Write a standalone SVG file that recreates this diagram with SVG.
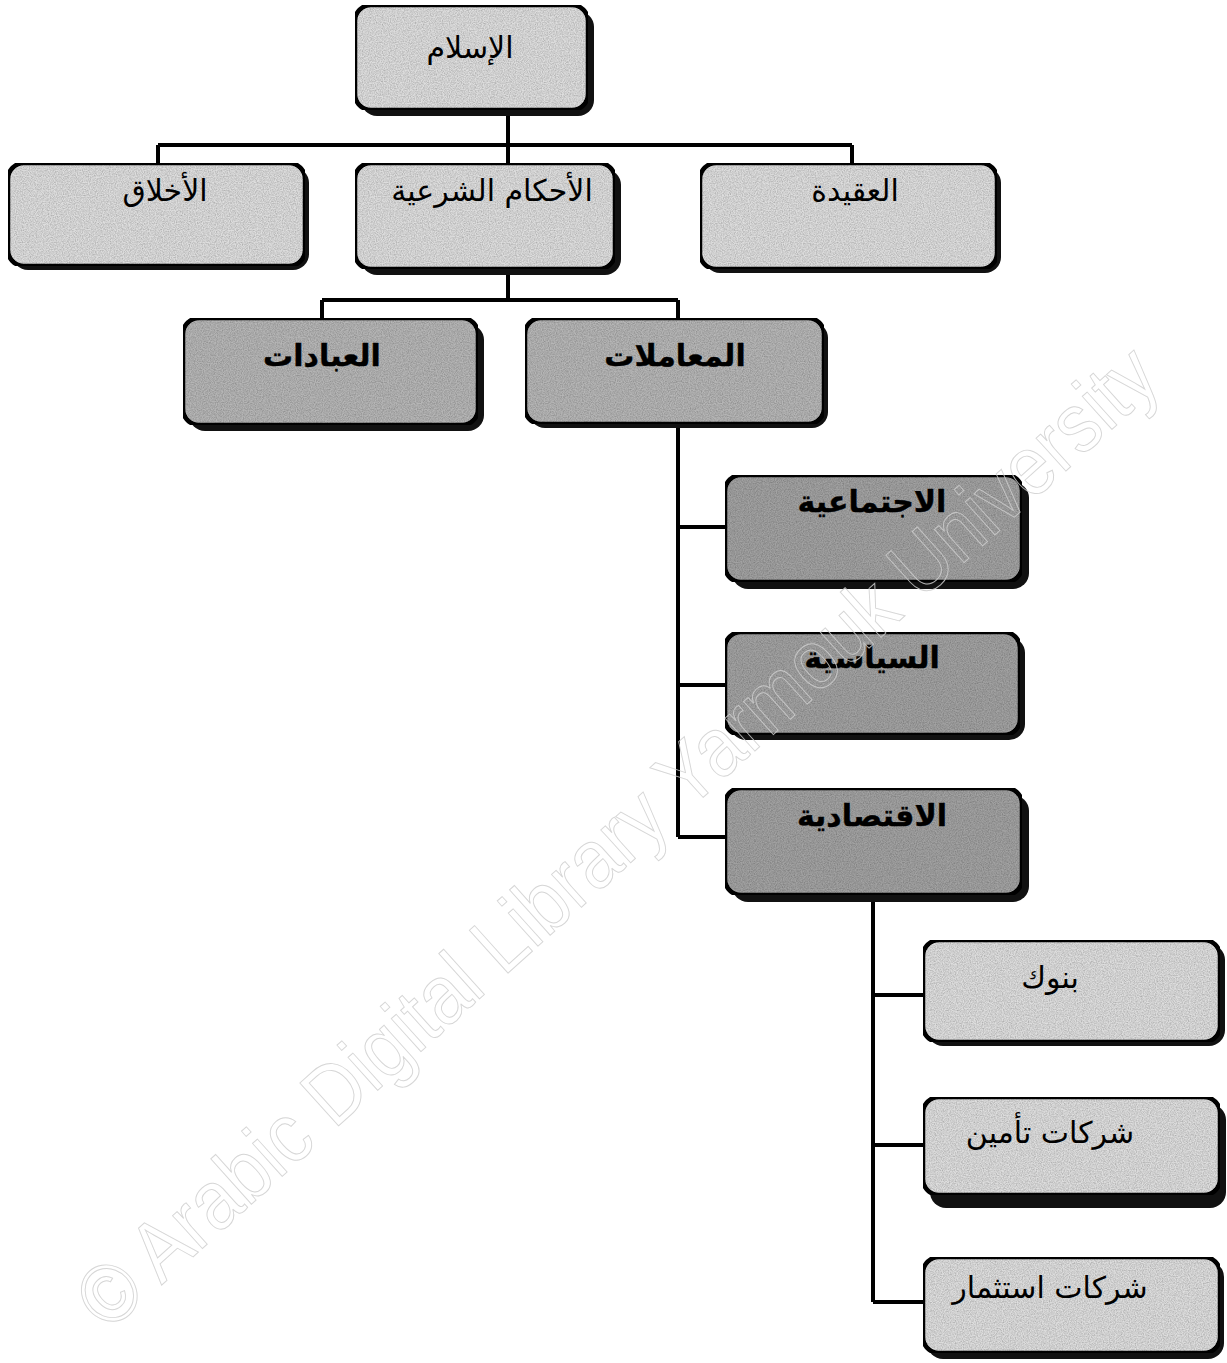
<svg xmlns="http://www.w3.org/2000/svg" width="1227" height="1363" viewBox="0 0 1227 1363">
<style>
.box{stroke:#000;stroke-width:4.5}
.shadow{fill:#111}
.light{fill:#dedede}
.mid{fill:#b6b6b6}
.dark{fill:#a2a2a2}
.lbl{font-family:"DejaVu Sans",sans-serif;font-size:30px;fill:#000;text-anchor:middle}
.bold{font-weight:bold;stroke:#000;stroke-width:0.4}
.conn{fill:none;stroke:#000;stroke-width:4}
.wm{font-family:"Liberation Sans",sans-serif;font-size:84px;fill:none;stroke:#cfcfcf;stroke-width:1;opacity:0.85}
</style>
<defs>
<filter id="grain" x="0" y="0" width="1" height="1">
<feTurbulence type="fractalNoise" baseFrequency="0.85" numOctaves="2" seed="3" result="n"/>
<feColorMatrix in="n" type="matrix" values="0 0 0 0 0  0 0 0 0 0  0 0 0 0 0  0 0 0 -0.7 0.5" result="a"/>
<feComposite in="a" in2="SourceAlpha" operator="in" result="m"/>
<feMerge><feMergeNode in="SourceGraphic"/><feMergeNode in="m"/></feMerge>
</filter>
</defs>
<rect width="1227" height="1363" fill="#fff"/>
<g id="connectors">
<path class="conn" d="M508 110 V165 M158 145 H852 M158 145 V165 M852 145 V165"/>
<path class="conn" d="M508 270 V300 M322 300 H678 M322 300 V320 M678 300 V320"/>
<path class="conn" d="M678 425 V837 M678 527 H725 M678 685 H725 M678 837 H725"/>
<path class="conn" d="M873 895 V1302 M873 995 H923 M873 1145 H923 M873 1302 H923"/>
</g>
<g id="n-islam">
<rect class="shadow" x="361" y="11" width="233" height="105" rx="16"/>
<rect class="box light" x="355" y="5" width="233" height="105" rx="16" filter="url(#grain)"/>
<text class="lbl" x="470" y="58">الإسلام</text>
</g>
<g id="n-akhlaq">
<rect class="shadow" x="12" y="167" width="297" height="103" rx="16"/>
<rect class="box light" x="8" y="163" width="297" height="103" rx="16" filter="url(#grain)"/>
<text class="lbl" x="165" y="201">الأخلاق</text>
</g>
<g id="n-ahkam">
<rect class="shadow" x="361" y="169" width="260" height="106" rx="16"/>
<rect class="box light" x="355" y="163" width="260" height="106" rx="16" filter="url(#grain)"/>
<text class="lbl" x="492" y="201">الأحكام الشرعية</text>
</g>
<g id="n-aqida">
<rect class="shadow" x="704" y="167" width="297" height="106" rx="16"/>
<rect class="box light" x="700" y="163" width="297" height="106" rx="16" filter="url(#grain)"/>
<text class="lbl" x="855" y="201">العقيدة</text>
</g>
<g id="n-ibadat">
<rect class="shadow" x="189" y="324" width="295" height="107" rx="16"/>
<rect class="box mid" x="183" y="318" width="295" height="107" rx="16" filter="url(#grain)"/>
<text class="lbl bold" x="322" y="366">العبادات</text>
</g>
<g id="n-muamalat">
<rect class="shadow" x="529" y="322" width="299" height="106" rx="16"/>
<rect class="box mid" x="525" y="318" width="299" height="106" rx="16" filter="url(#grain)"/>
<text class="lbl bold" x="675" y="366">المعاملات</text>
</g>
<g id="n-ijtimaiya">
<rect class="shadow" x="732" y="482" width="297" height="107" rx="16"/>
<rect class="box dark" x="725" y="475" width="297" height="107" rx="16" filter="url(#grain)"/>
<text class="lbl bold" x="872" y="512">الاجتماعية</text>
</g>
<g id="n-siyasiya">
<rect class="shadow" x="730" y="637" width="295" height="103" rx="16"/>
<rect class="box dark" x="725" y="632" width="295" height="103" rx="16" filter="url(#grain)"/>
<text class="lbl bold" x="872" y="668">السياسية</text>
</g>
<g id="n-iqtisadiya">
<rect class="shadow" x="732" y="795" width="297" height="107" rx="16"/>
<rect class="box dark" x="725" y="788" width="297" height="107" rx="16" filter="url(#grain)"/>
<text class="lbl bold" x="872" y="826">الاقتصادية</text>
</g>
<g id="n-bunuk">
<rect class="shadow" x="927" y="944" width="298" height="102" rx="16"/>
<rect class="box light" x="923" y="940" width="297" height="102" rx="16" filter="url(#grain)"/>
<text class="lbl" x="1050" y="988">بنوك</text>
</g>
<g id="n-tamin">
<rect class="shadow" x="930" y="1104" width="296" height="104" rx="16"/>
<rect class="box light" x="923" y="1097" width="297" height="98" rx="16" filter="url(#grain)"/>
<text class="lbl" x="1050" y="1143">شركات تأمين</text>
</g>
<g id="n-istithmar">
<rect class="shadow" x="927" y="1261" width="297" height="98" rx="16"/>
<rect class="box light" x="923" y="1257" width="297" height="96" rx="16" filter="url(#grain)"/>
<text class="lbl" x="1050" y="1298">شركات استثمار</text>
</g>
<text class="wm" transform="translate(636 858) rotate(-42)" text-anchor="middle" textLength="1420" lengthAdjust="spacingAndGlyphs">© Arabic Digital Library Yarmouk University</text>
</svg>
